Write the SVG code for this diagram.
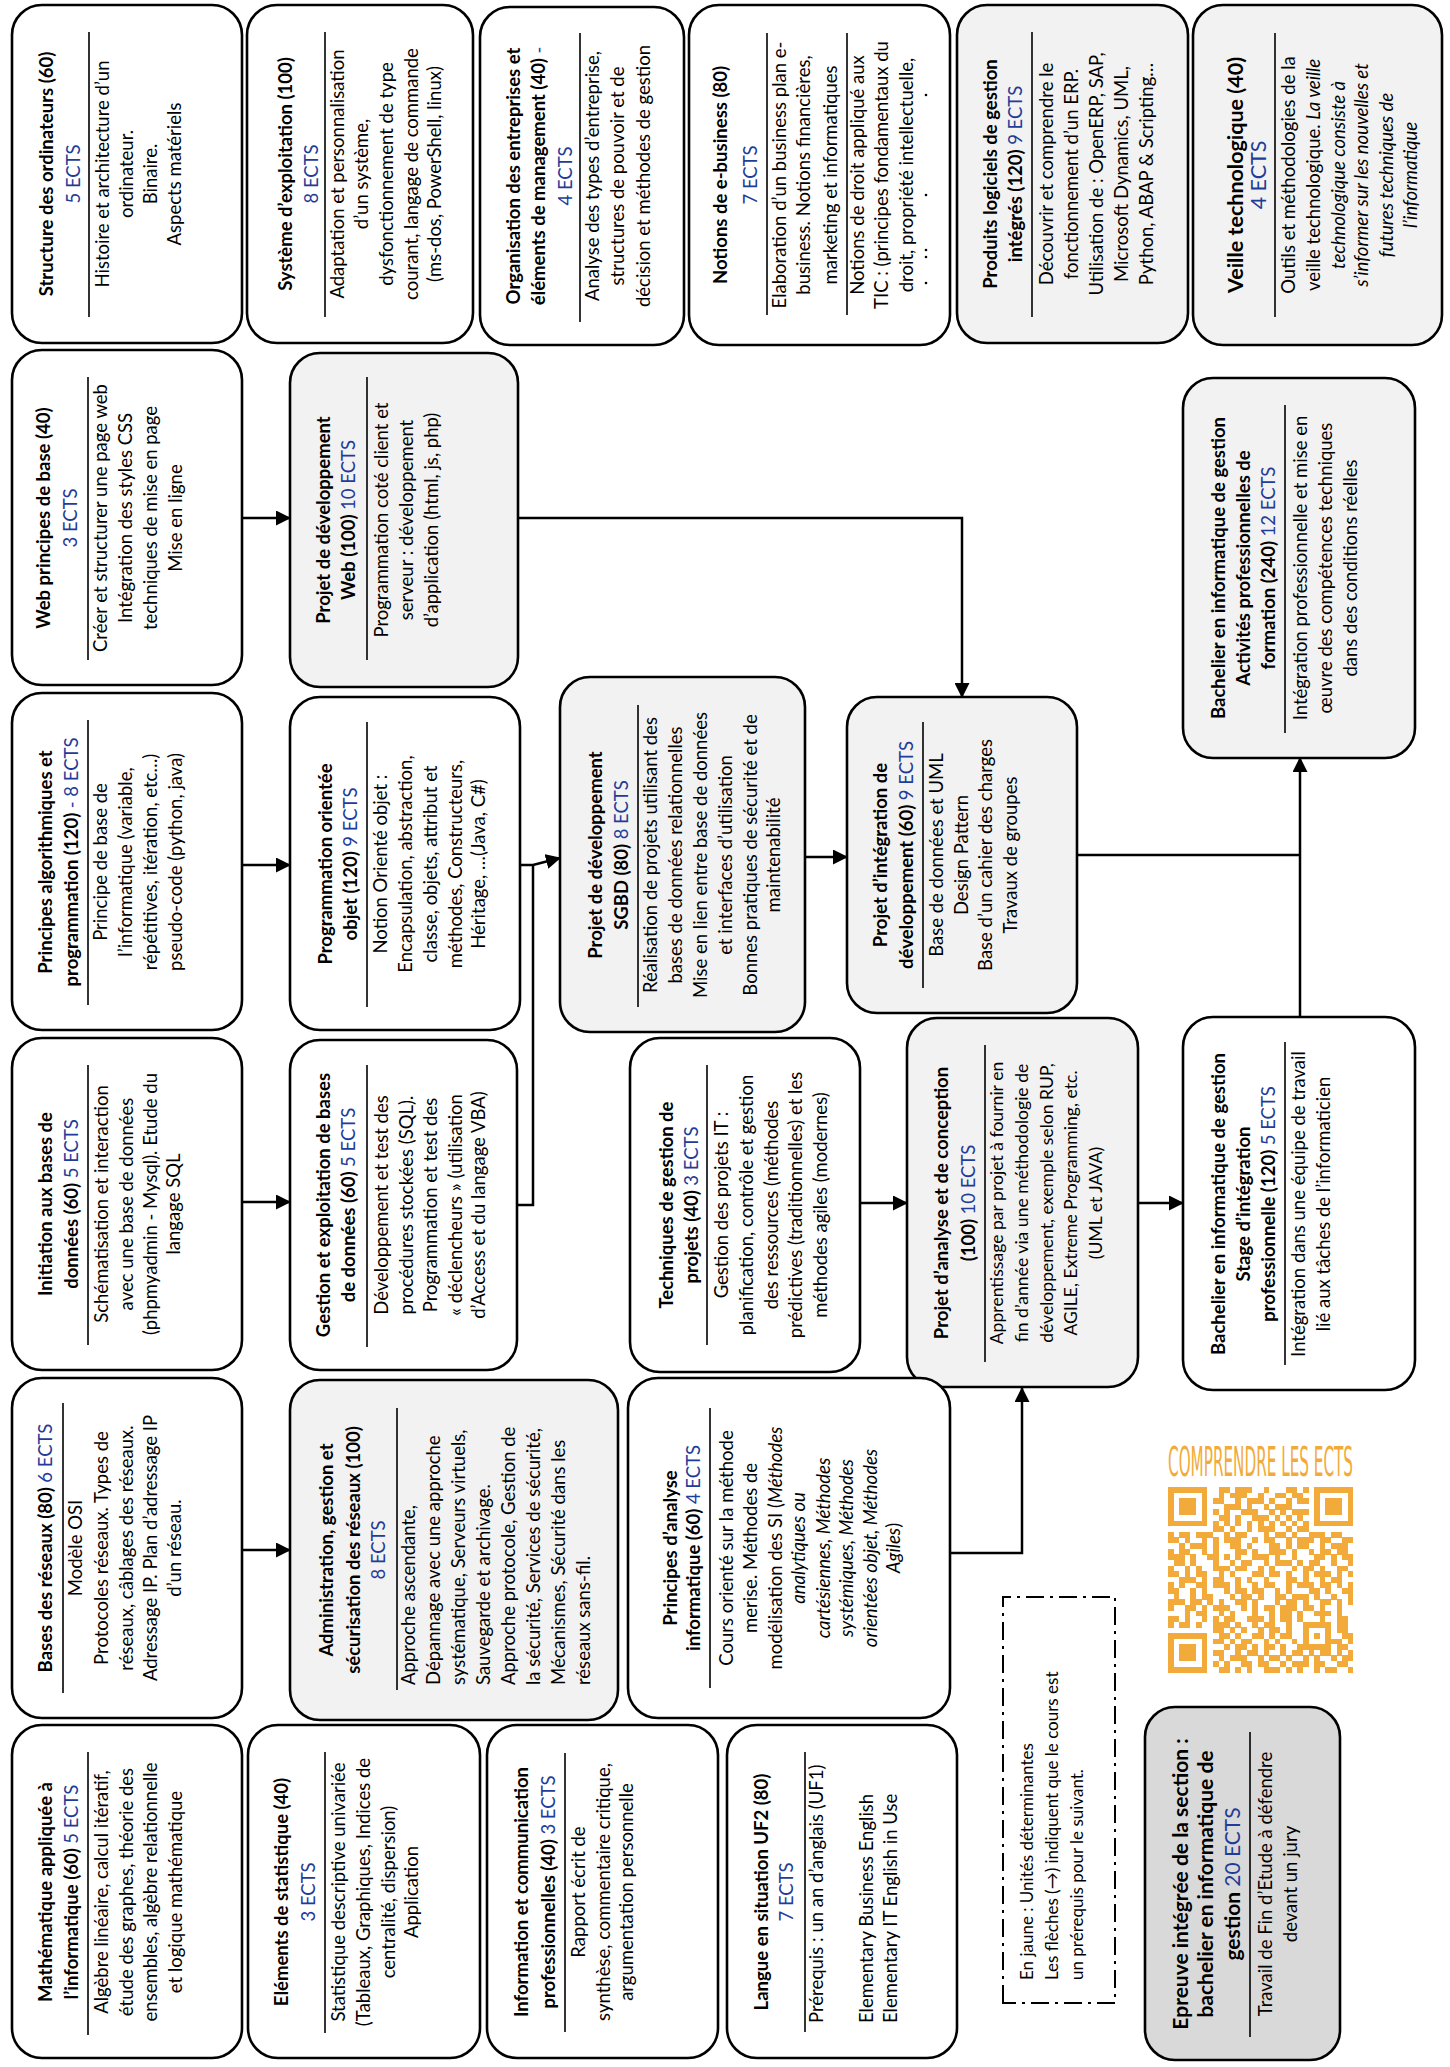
<svg xmlns="http://www.w3.org/2000/svg" width="1450" height="2067" viewBox="0 0 1450 2067">
<style>
.bx{fill:#fff;stroke:#000;stroke-width:2.6}
.gr{fill:#f2f2f2}
.dk{fill:#d9d9d9}
.sep{stroke:#000;stroke-width:1.6}
text{font-family:Lato,"Liberation Sans",sans-serif;font-size:18.5px;fill:#000}
.t{font-weight:700;text-anchor:middle}
.c{text-anchor:middle}
.l{text-anchor:start}
.e{fill:#1f3c98;font-weight:400}
.i{font-style:italic}
.s{font-size:17.6px}
.cn{fill:none;stroke:#000;stroke-width:2.5}
</style>
<defs>
<marker id="ah" markerUnits="userSpaceOnUse" markerWidth="15" markerHeight="15" refX="14" refY="7.5" orient="auto" viewBox="0 0 15 15">
<path d="M0,0 L15,7.5 L0,15 z" fill="#000"/>
</marker>
</defs>
<rect width="1450" height="2067" fill="#fff"/>

<g id="structure-ordinateurs" transform="translate(12,343) rotate(-90)">
<rect class="bx" width="338" height="230" rx="30"/>
<text class="t" x="169" y="41">Structure des ordinateurs (60)</text>
<text class="t e" x="169" y="68">5 ECTS</text>
<line class="sep" x1="26" y1="77" x2="311" y2="77"/>
<text class="c" x="169" y="97">Histoire et architecture d’un</text>
<text class="c" x="169" y="121">ordinateur.</text>
<text class="c" x="169" y="145">Binaire.</text>
<text class="c" x="169" y="169">Aspects matériels</text>
</g>

<g id="systeme-exploitation" transform="translate(247,343) rotate(-90)">
<rect class="bx" width="338" height="226" rx="30"/>
<text class="t" x="169" y="45">Système d’exploitation (100)</text>
<text class="t e" x="169" y="71">8 ECTS</text>
<line class="sep" x1="26" y1="78" x2="311" y2="78"/>
<text class="c" x="169" y="97">Adaptation et personnalisation</text>
<text class="c" x="169" y="121">d’un système,</text>
<text class="c" x="169" y="146">dysfonctionnement de type</text>
<text class="c" x="169" y="171">courant, langage de commande</text>
<text class="c" x="169" y="194">(ms-dos, PowerShell, linux)</text>
</g>

<g id="organisation-entreprises" transform="translate(480,345) rotate(-90)">
<rect class="bx" width="338" height="204" rx="30"/>
<text class="t" x="169" y="40">Organisation des entreprises et</text>
<text class="t" x="169" y="65">éléments de management (40) <tspan class="e">-</tspan></text>
<text class="t e" x="169" y="92">4 ECTS</text>
<line class="sep" x1="23" y1="100" x2="312" y2="100"/>
<text class="c" x="169" y="119">Analyse des types d’entreprise,</text>
<text class="c" x="169" y="144">structures de pouvoir et de</text>
<text class="c" x="169" y="170">décision et méthodes de gestion</text>
</g>

<g id="notions-ebusiness" transform="translate(689,345) rotate(-90)">
<rect class="bx" width="340" height="261" rx="30"/>
<text class="t" x="170" y="38">Notions de e-business (80)</text>
<text class="t e" x="170" y="68">7 ECTS</text>
<line class="sep" x1="30" y1="78" x2="312" y2="78"/>
<text class="c" x="170" y="97">Elaboration d’un business plan e-</text>
<text class="c" x="170" y="121">business. Notions financières,</text>
<text class="c" x="170" y="148">marketing et informatiques</text>
<line class="sep" x1="30" y1="158" x2="312" y2="158"/>
<text class="c" x="170" y="175">Notions de droit appliqué aux</text>
<text class="c" x="170" y="199">TIC : (principes fondamentaux du</text>
<text class="c" x="170" y="224">droit, propriété intellectuelle,</text>
<circle cx="62" cy="237" r="1.3"/><circle cx="88" cy="237" r="1.3"/><circle cx="95" cy="237" r="1.3"/><circle cx="150" cy="237" r="1.3"/><circle cx="250" cy="237" r="1.3"/>
</g>

<g id="produits-logiciels" transform="translate(957,343) rotate(-90)">
<rect class="bx gr" width="338" height="231" rx="30"/>
<text class="t" x="169" y="40">Produits logiciels de gestion</text>
<text class="t" x="169" y="65">intégrés (120) <tspan class="e">9 ECTS</tspan></text>
<line class="sep" x1="26" y1="75" x2="311" y2="75"/>
<text class="c" x="169" y="96">Découvrir et comprendre le</text>
<text class="c" x="169" y="121">fonctionnement d’un ERP.</text>
<text class="c" x="169" y="146">Utilisation de : OpenERP, SAP,</text>
<text class="c" x="169" y="171">Microsoft Dynamics, UML,</text>
<text class="c" x="169" y="196">Python, ABAP &amp; Scripting…</text>
</g>

<g id="veille-technologique" transform="translate(1193,345) rotate(-90)">
<rect class="bx gr" width="340" height="249" rx="30"/>
<text class="t" x="170" y="50" style="font-size:21.5px">Veille technologique (40)</text>
<text class="t e" x="170" y="73" style="font-size:21.5px">4 ECTS</text>
<line class="sep" x1="28" y1="82" x2="312" y2="82"/>
<text class="c" x="170" y="102">Outils et méthodologies de la</text>
<text class="c" x="170" y="127">veille technologique. <tspan class="i">La veille</tspan></text>
<text class="c i" x="170" y="152">technologique consiste à</text>
<text class="c i" x="170" y="175">s’informer sur les nouvelles et</text>
<text class="c i" x="170" y="200">futures techniques de</text>
<text class="c i" x="170" y="224">l’informatique</text>
</g>

<g id="web-principes" transform="translate(12,685) rotate(-90)">
<rect class="bx" width="335" height="230" rx="30"/>
<text class="t" x="167" y="38">Web principes de base (40)</text>
<text class="t e" x="167" y="65">3 ECTS</text>
<line class="sep" x1="25" y1="76" x2="308" y2="76"/>
<text class="c" x="167" y="95">Créer et structurer une page web</text>
<text class="c" x="167" y="120">Intégration des styles CSS</text>
<text class="c" x="167" y="145">techniques de mise en page</text>
<text class="c" x="167" y="170">Mise en ligne</text>
</g>

<g id="principes-algorithmiques" transform="translate(12,1030) rotate(-90)">
<rect class="bx" width="337" height="230" rx="30"/>
<text class="t" x="168" y="40">Principes algorithmiques et</text>
<text class="t" x="168" y="66">programmation (120) <tspan class="e">- 8 ECTS</tspan></text>
<line class="sep" x1="25" y1="76" x2="310" y2="76"/>
<text class="c" x="168" y="95">Principe de base de</text>
<text class="c" x="168" y="120">l’informatique (variable,</text>
<text class="c" x="168" y="145">répétitives, itération, etc…)</text>
<text class="c" x="168" y="170">pseudo-code (python, java)</text>
</g>

<g id="initiation-bd" transform="translate(12,1370) rotate(-90)">
<rect class="bx" width="332" height="230" rx="30"/>
<text class="t" x="166" y="40">Initiation aux bases de</text>
<text class="t" x="166" y="66">données (60) <tspan class="e">5 ECTS</tspan></text>
<line class="sep" x1="25" y1="76" x2="305" y2="76"/>
<text class="c" x="166" y="96">Schématisation et interaction</text>
<text class="c" x="166" y="121">avec une base de données</text>
<text class="c" x="166" y="145">(phpmyadmin - Mysql). Etude du</text>
<text class="c" x="166" y="168">langage SQL</text>
</g>

<g id="bases-reseaux" transform="translate(12,1718) rotate(-90)">
<rect class="bx" width="340" height="230" rx="30"/>
<text class="t" x="170" y="40">Bases des réseaux (80) <tspan class="e">6 ECTS</tspan></text>
<line class="sep" x1="25" y1="51" x2="315" y2="51"/>
<text class="c" x="170" y="70">Modèle OSI</text>
<text class="c" x="170" y="96">Protocoles réseaux. Types de</text>
<text class="c" x="170" y="121">réseaux, câblages des réseaux.</text>
<text class="c" x="170" y="145">Adressage IP. Plan d’adressage IP</text>
<text class="c" x="170" y="169">d’un réseau.</text>
</g>

<g id="mathematique" transform="translate(12,2058) rotate(-90)">
<rect class="bx" width="333" height="230" rx="30"/>
<text class="t" x="166" y="40">Mathématique appliquée à</text>
<text class="t" x="166" y="66">l’informatique (60) <tspan class="e">5 ECTS</tspan></text>
<line class="sep" x1="23" y1="76" x2="306" y2="76"/>
<text class="c" x="166" y="96">Algèbre linéaire, calcul itératif,</text>
<text class="c" x="166" y="121">étude des graphes, théorie des</text>
<text class="c" x="166" y="145">ensembles, algèbre relationnelle</text>
<text class="c" x="166" y="170">et logique mathématique</text>
</g>

<g id="projet-web" transform="translate(290,687) rotate(-90)">
<rect class="bx gr" width="334" height="228" rx="30"/>
<text class="t" x="167" y="40">Projet de développement</text>
<text class="t" x="167" y="65">Web (100) <tspan class="e">10 ECTS</tspan></text>
<line class="sep" x1="27" y1="77" x2="310" y2="77"/>
<text class="c" x="167" y="98">Programmation coté client et</text>
<text class="c" x="167" y="123">serveur : développement</text>
<text class="c" x="167" y="148">d’application (html, js, php)</text>
</g>

<g id="programmation-objet" transform="translate(290,1030) rotate(-90)">
<rect class="bx" width="333" height="230" rx="30"/>
<text class="t" x="166" y="42">Programmation orientée</text>
<text class="t" x="166" y="67">objet (120) <tspan class="e">9 ECTS</tspan></text>
<line class="sep" x1="23" y1="77" x2="308" y2="77"/>
<text class="c" x="166" y="97">Notion Orienté objet :</text>
<text class="c" x="166" y="122">Encapsulation, abstraction,</text>
<text class="c" x="166" y="147">classe, objets, attribut et</text>
<text class="c" x="166" y="172">méthodes, Constructeurs,</text>
<text class="c" x="166" y="195">Héritage, …(Java, C#)</text>
</g>

<g id="gestion-bd" transform="translate(290,1370) rotate(-90)">
<rect class="bx" width="330" height="227" rx="30"/>
<text class="t" x="165" y="40">Gestion et exploitation de bases</text>
<text class="t" x="165" y="65">de données (60) <tspan class="e">5 ECTS</tspan></text>
<line class="sep" x1="23" y1="77" x2="305" y2="77"/>
<text class="c" x="165" y="98">Développement et test des</text>
<text class="c" x="165" y="123">procédures stockées (SQL).</text>
<text class="c" x="165" y="147">Programmation et test des</text>
<text class="c" x="165" y="172">« déclencheurs » (utilisation</text>
<text class="c" x="165" y="195">d’Access et du langage VBA)</text>
</g>

<g id="administration-reseaux" transform="translate(290,1720) rotate(-90)">
<rect class="bx gr" width="340" height="328" rx="30"/>
<text class="t" x="170" y="43">Administration, gestion et</text>
<text class="t" x="170" y="70">sécurisation des réseaux (100)</text>
<text class="t e" x="170" y="95">8 ECTS</text>
<line class="sep" x1="30" y1="107" x2="312" y2="107"/>
<text class="l" x="35" y="125">Approche ascendante,</text>
<text class="l" x="35" y="150">Dépannage avec une approche</text>
<text class="l" x="35" y="175">systématique, Serveurs virtuels,</text>
<text class="l" x="35" y="200">Sauvegarde et archivage.</text>
<text class="l" x="35" y="225">Approche protocole, Gestion de</text>
<text class="l" x="35" y="250">la sécurité, Services de sécurité,</text>
<text class="l" x="35" y="275">Mécanismes, Sécurité dans les</text>
<text class="l" x="35" y="300">réseaux sans-fil.</text>
</g>

<g id="projet-sgbd" transform="translate(560,1032) rotate(-90)">
<rect class="bx gr" width="355" height="245" rx="30"/>
<text class="t" x="177" y="42">Projet de développement</text>
<text class="t" x="177" y="68">SGBD (80) <tspan class="e">8 ECTS</tspan></text>
<line class="sep" x1="25" y1="78" x2="327" y2="78"/>
<text class="c" x="177" y="97">Réalisation de projets utilisant des</text>
<text class="c" x="177" y="122">bases de données relationnelles</text>
<text class="c" x="177" y="147">Mise en lien entre base de données</text>
<text class="c" x="177" y="172">et interfaces d’utilisation</text>
<text class="c" x="177" y="197">Bonnes pratiques de sécurité et de</text>
<text class="c" x="177" y="220">maintenabilité</text>
</g>

<g id="projet-integration" transform="translate(847,1013) rotate(-90)">
<rect class="bx gr" width="316" height="230" rx="30"/>
<text class="t" x="158" y="40">Projet d’intégration de</text>
<text class="t" x="158" y="66">développement (60) <tspan class="e">9 ECTS</tspan></text>
<line class="sep" x1="25" y1="76" x2="291" y2="76"/>
<text class="c" x="158" y="96">Base de données et UML</text>
<text class="c" x="158" y="121">Design Pattern</text>
<text class="c" x="158" y="145">Base d’un cahier des charges</text>
<text class="c" x="158" y="170">Travaux de groupes</text>
</g>

<g id="techniques-gestion-projets" transform="translate(630,1372) rotate(-90)">
<rect class="bx" width="334" height="230" rx="30"/>
<text class="t" x="167" y="43">Techniques de gestion de</text>
<text class="t" x="167" y="68">projets (40) <tspan class="e">3 ECTS</tspan></text>
<line class="sep" x1="27" y1="77" x2="307" y2="77"/>
<text class="c" x="167" y="98">Gestion des projets IT :</text>
<text class="c" x="167" y="123">planification, contrôle et gestion</text>
<text class="c" x="167" y="148">des ressources (méthodes</text>
<text class="c" x="167" y="172">prédictives (traditionnelles) et les</text>
<text class="c" x="167" y="197">méthodes agiles (modernes)</text>
</g>

<g id="projet-analyse-conception" transform="translate(907,1387) rotate(-90)">
<rect class="bx gr" width="369" height="231" rx="30"/>
<text class="t" x="184" y="41">Projet d’analyse et de conception</text>
<text class="t" x="184" y="68">(100) <tspan class="e">10 ECTS</tspan></text>
<line class="sep" x1="25" y1="78" x2="342" y2="78"/>
<text class="c s" x="184" y="96">Apprentissage par projet à fournir en</text>
<text class="c s" x="184" y="121">fin d’année via une méthodologie de</text>
<text class="c s" x="184" y="146">développement, exemple selon RUP,</text>
<text class="c s" x="184" y="170">AGILE, Extreme Programming, etc.</text>
<text class="c s" x="184" y="195">(UML et JAVA)</text>
</g>

<g id="stage-integration" transform="translate(1183,1390) rotate(-90)">
<rect class="bx" width="373" height="232" rx="30"/>
<text class="t" x="186" y="42">Bachelier en informatique de gestion</text>
<text class="t" x="186" y="67">Stage d’intégration</text>
<text class="t" x="186" y="92">professionnelle (120) <tspan class="e">5 ECTS</tspan></text>
<line class="sep" x1="25" y1="102" x2="348" y2="102"/>
<text class="c" x="186" y="122">Intégration dans une équipe de travail</text>
<text class="c" x="186" y="147">lié aux tâches de l’informaticien</text>
</g>

<g id="activites-professionnelles" transform="translate(1183,758) rotate(-90)">
<rect class="bx gr" width="380" height="232" rx="30"/>
<text class="t" x="190" y="42">Bachelier en informatique de gestion</text>
<text class="t" x="190" y="67">Activités professionnelles de</text>
<text class="t" x="190" y="92">formation (240) <tspan class="e">12 ECTS</tspan></text>
<line class="sep" x1="25" y1="102" x2="353" y2="102"/>
<text class="c" x="190" y="124">Intégration professionnelle et mise en</text>
<text class="c" x="190" y="149">œuvre des compétences techniques</text>
<text class="c" x="190" y="174">dans des conditions réelles</text>
</g>

<g id="principes-analyse" transform="translate(628,1718) rotate(-90)">
<rect class="bx" width="340" height="322" rx="30"/>
<text class="t" x="170" y="49">Principes d’analyse</text>
<text class="t" x="170" y="72">informatique (60) <tspan class="e">4 ECTS</tspan></text>
<line class="sep" x1="30" y1="82" x2="310" y2="82"/>
<text class="c" x="170" y="105">Cours orienté sur la méthode</text>
<text class="c" x="170" y="129">merise. Méthodes de</text>
<text class="c" x="170" y="154">modélisation des SI (<tspan class="i">Méthodes</tspan></text>
<text class="c i" x="170" y="177">analytiques ou</text>
<text class="c i" x="170" y="202">cartésiennes, Méthodes</text>
<text class="c i" x="170" y="225">systémiques, Méthodes</text>
<text class="c i" x="170" y="249">orientées objet, Méthodes</text>
<text class="c" x="170" y="272"><tspan class="i">Agiles</tspan>)</text>
</g>

<g id="elements-statistique" transform="translate(248,2058) rotate(-90)">
<rect class="bx" width="333" height="232" rx="30"/>
<text class="t" x="166" y="40">Eléments de statistique (40)</text>
<text class="t e" x="166" y="67">3 ECTS</text>
<line class="sep" x1="25" y1="77" x2="306" y2="77"/>
<text class="c" x="166" y="97">Statistique descriptive univariée</text>
<text class="c" x="166" y="122">(Tableaux, Graphiques, Indices de</text>
<text class="c" x="166" y="147">centralité, dispersion)</text>
<text class="c" x="166" y="170">Application</text>
</g>

<g id="information-communication" transform="translate(487,2058) rotate(-90)">
<rect class="bx" width="333" height="231" rx="30"/>
<text class="t" x="166" y="41">Information et communication</text>
<text class="t" x="166" y="68">professionnelles (40)  <tspan class="e">3 ECTS</tspan></text>
<line class="sep" x1="26" y1="78" x2="305" y2="78"/>
<text class="c" x="166" y="98">Rapport écrit de</text>
<text class="c" x="166" y="123">synthèse, commentaire critique,</text>
<text class="c" x="166" y="146">argumentation personnelle</text>
</g>

<g id="langue-situation" transform="translate(727,2058) rotate(-90)">
<rect class="bx" width="333" height="230" rx="30"/>
<text class="t" x="166" y="41">Langue en situation UF2 (80)</text>
<text class="t e" x="166" y="66">7 ECTS</text>
<line class="sep" x1="26" y1="78" x2="306" y2="78"/>
<text class="l" x="35" y="96">Prérequis : un an d’anglais (UF1)</text>
<text class="l" x="35" y="146">Elementary Business English</text>
<text class="l" x="35" y="170">Elementary IT English in Use</text>
</g>

<g id="epreuve-integree" transform="translate(1145,2060) rotate(-90)">
<rect class="bx dk" width="353" height="195" rx="30"/>
<text class="t" x="176" y="43" style="font-size:21px">Epreuve intégrée de la section :</text>
<text class="t" x="176" y="68" style="font-size:21px">bachelier en informatique de</text>
<text class="t" x="176" y="95" style="font-size:21px">gestion <tspan class="e">20 ECTS</tspan></text>
<line class="sep" x1="23" y1="105" x2="328" y2="105"/>
<text class="c" x="176" y="127">Travail de Fin d’Etude à défendre</text>
<text class="c" x="176" y="152">devant un jury</text>
</g>

<g id="legende" transform="translate(1003,2003) rotate(-90)">
<rect width="406" height="112" fill="none" stroke="#000" stroke-width="2" stroke-dasharray="18 6 3 6"/>
<text class="l" x="23" y="30" style="font-size:17px">En jaune : Unités déterminantes</text>
<text class="l" x="23" y="55" style="font-size:17px">Les flèches (→) indiquent que le cours est</text>
<text class="l" x="23" y="80" style="font-size:17px">un prérequis pour le suivant.</text>
</g>

<g id="connecteurs">
<path class="cn" d="M242,518 H290" marker-end="url(#ah)"/>
<path class="cn" d="M242,865 H290" marker-end="url(#ah)"/>
<path class="cn" d="M242,1202 H290" marker-end="url(#ah)"/>
<path class="cn" d="M242,1550 H290" marker-end="url(#ah)"/>
<path class="cn" d="M520,865 H533 L560,858" marker-end="url(#ah)"/>
<path class="cn" d="M517,1205 H533 V865"/>
<path class="cn" d="M518,518 H962 V697" marker-end="url(#ah)"/>
<path class="cn" d="M805,857 H847" marker-end="url(#ah)"/>
<path class="cn" d="M1077,855 H1300"/>
<path class="cn" d="M1300,1017 V758" marker-end="url(#ah)"/>
<path class="cn" d="M860,1203 H907" marker-end="url(#ah)"/>
<path class="cn" d="M1138,1203 H1183" marker-end="url(#ah)"/>
<path class="cn" d="M950,1553 H1022 V1388" marker-end="url(#ah)"/>
</g>

<g id="qr-ects">
<text x="1168" y="1476" textLength="185" lengthAdjust="spacingAndGlyphs" style="font-family:'DejaVu Sans Condensed','Liberation Sans Narrow',Roboto,sans-serif;font-size:40px;fill:#f2ab3a">COMPRENDRE LES ECTS</text>
<g transform="translate(1168,1487) scale(5.62)" stroke="#f2ab3a" stroke-width="1.04" fill="none" shape-rendering="crispEdges">
<line x1="0" x2="33" y1="0.5" y2="0.5" stroke-dasharray="7 2 2 1 3 2 1 3 2 1 1 1 7 1"/>
<line x1="0" x2="33" y1="1.5" y2="1.5" stroke-dasharray="1 5 1 2 1 1 3 2 1 2 2 1 2 2 1 5 1 1"/>
<line x1="0" x2="33" y1="2.5" y2="2.5" stroke-dasharray="1 1 3 1 1 1 2 2 1 1 3 1 1 2 1 1 2 1 1 1 3 1 1 1"/>
<line x1="0" x2="33" y1="3.5" y2="3.5" stroke-dasharray="1 1 3 1 1 3 3 1 1 2 1 1 3 4 1 1 3 1 1 1"/>
<line x1="0" x2="33" y1="4.5" y2="4.5" stroke-dasharray="1 1 3 1 1 1 1 1 1 2 3 2 1 1 1 1 3 1 1 1 3 1 1 1"/>
<line x1="0" x2="33" y1="5.5" y2="5.5" stroke-dasharray="1 5 1 2 2 1 1 2 3 1 1 1 1 1 1 2 1 5 1 1"/>
<line x1="0" x2="33" y1="6.5" y2="6.5" stroke-dasharray="7 1 1 1 1 1 1 1 1 1 1 1 1 1 1 1 1 1 1 1 7 1"/>
<line x1="0" x2="33" y1="7.5" y2="7.5" stroke-dasharray="0 8 2 1 1 2 1 1 3 2 1 1 2 8"/>
<line x1="0" x2="33" y1="8.5" y2="8.5" stroke-dasharray="1 1 2 1 3 2 1 1 2 3 1 1 2 1 1 2 3 1 2 2"/>
<line x1="0" x2="33" y1="9.5" y2="9.5" stroke-dasharray="2 1 1 2 1 1 1 1 3 2 1 1 2 2 1 1 3 1 2 2 2 1"/>
<line x1="0" x2="33" y1="10.5" y2="10.5" stroke-dasharray="0 2 1 1 3 1 1 2 2 1 1 3 2 1 1 1 2 2 1 1 3 1"/>
<line x1="0" x2="33" y1="11.5" y2="11.5" stroke-dasharray="1 1 2 2 1 1 1 3 2 1 1 2 3 1 1 2 1 1 2 1 2 1"/>
<line x1="0" x2="33" y1="12.5" y2="12.5" stroke-dasharray="3 1 1 2 2 1 1 1 1 2 3 1 1 2 1 3 2 1 1 1 2 1"/>
<line x1="0" x2="33" y1="13.5" y2="13.5" stroke-dasharray="0 1 2 1 1 3 1 2 1 1 2 2 1 1 3 1 1 1 2 2 1 1"/>
<line x1="0" x2="33" y1="14.5" y2="14.5" stroke-dasharray="1 2 1 1 1 2 3 1 2 2 1 1 1 3 1 1 2 1 1 2 2 1"/>
<line x1="0" x2="33" y1="15.5" y2="15.5" stroke-dasharray="2 1 1 1 2 2 1 1 1 3 2 1 2 1 1 2 1 1 3 1 1 1"/>
<line x1="0" x2="33" y1="16.5" y2="16.5" stroke-dasharray="0 2 3 1 1 1 2 2 1 1 1 2 1 3 2 1 1 2 1 1 2 1"/>
<line x1="0" x2="33" y1="17.5" y2="17.5" stroke-dasharray="1 1 1 2 2 1 3 1 1 2 1 1 2 2 1 1 3 1 2 1 1 1"/>
<line x1="0" x2="33" y1="18.5" y2="18.5" stroke-dasharray="2 2 1 1 1 3 1 1 2 1 2 2 1 1 1 3 2 1 1 2"/>
<line x1="0" x2="33" y1="19.5" y2="19.5" stroke-dasharray="0 1 1 2 1 1 2 3 1 1 2 1 1 2 2 1 3 1 1 2 1 1"/>
<line x1="0" x2="33" y1="20.5" y2="20.5" stroke-dasharray="3 1 2 1 1 1 1 2 2 1 1 3 1 1 2 1 1 2 2 1 1 1"/>
<line x1="0" x2="33" y1="21.5" y2="21.5" stroke-dasharray="1 2 2 1 1 1 3 2 1 1 1 1 2 1 3 1 2 1 1 2"/>
<line x1="0" x2="33" y1="22.5" y2="22.5" stroke-dasharray="0 3 1 1 2 2 1 1 1 3 1 2 1 1 2 1 1 2 3 1 1 1"/>
<line x1="0" x2="33" y1="23.5" y2="23.5" stroke-dasharray="2 1 1 2 1 1 1 1 2 2 3 1 1 1 2 1 1 3 1 2"/>
<line x1="0" x2="33" y1="24.5" y2="24.5" stroke-dasharray="1 1 2 1 1 2 3 1 1 2 1 1 2 2 1 2 5 1 2 1"/>
<line x1="0" x2="33" y1="25.5" y2="25.5" stroke-dasharray="0 8 2 1 1 1 1 2 1 1 2 1 1 2 1 3 1 1 2 1"/>
<line x1="0" x2="33" y1="26.5" y2="26.5" stroke-dasharray="7 2 2 1 1 2 2 1 1 1 2 2 1 1 1 1 1 2 2 1"/>
<line x1="0" x2="33" y1="27.5" y2="27.5" stroke-dasharray="1 5 1 1 2 1 1 1 2 2 1 1 1 2 1 1 1 3 3 1 1 1"/>
<line x1="0" x2="33" y1="28.5" y2="28.5" stroke-dasharray="1 1 3 1 1 3 1 1 2 1 1 1 2 1 1 2 6 1 2 1"/>
<line x1="0" x2="33" y1="29.5" y2="29.5" stroke-dasharray="1 1 3 1 1 1 2 2 1 1 2 1 1 2 1 1 2 1 1 1 2 1 1 1 1 1"/>
<line x1="0" x2="33" y1="30.5" y2="30.5" stroke-dasharray="1 1 3 1 1 2 1 1 3 2 1 1 2 1 1 2 1 1 1 2 1 1 2 1"/>
<line x1="0" x2="33" y1="31.5" y2="31.5" stroke-dasharray="1 5 1 1 1 1 1 2 2 1 2 2 1 1 3 1 2 2 2 1"/>
<line x1="0" x2="33" y1="32.5" y2="32.5" stroke-dasharray="7 2 2 1 1 1 1 2 3 1 1 1 1 2 1 1 2 2 1 1"/>
</g>
</g>
</svg>
